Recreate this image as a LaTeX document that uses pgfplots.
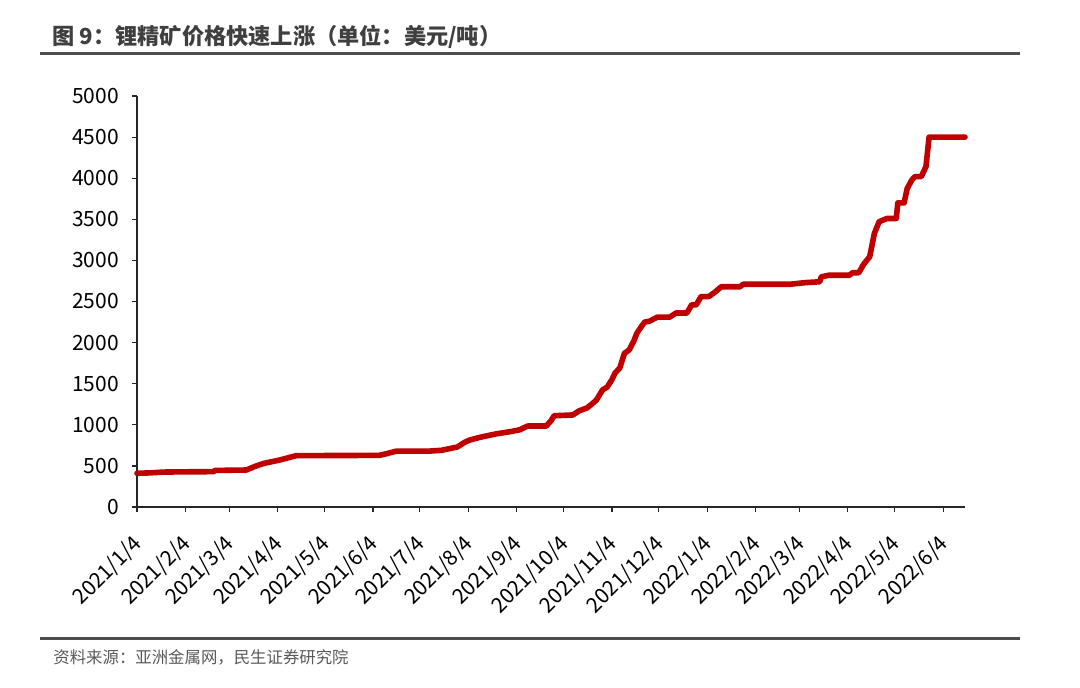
\documentclass[border=0pt]{standalone}
\usepackage{fontspec}
\setmainfont{Noto Sans CJK SC}
\usepackage{pgfplots}
\pgfplotsset{compat=1.18}
\definecolor{linered}{HTML}{C00000}
\definecolor{rulegray}{HTML}{4D4D4D}
\definecolor{titlegray}{HTML}{3F3F3F}
\definecolor{srcgray}{HTML}{595959}
\begin{document}
\begin{tikzpicture}[x=0.5pt,y=0.5pt]
\path (0,0) rectangle (1080,687);
\node[anchor=west, font=\bfseries\fontsize{11.1}{13}\selectfont, text=titlegray, inner sep=0] at (52,650) {图 9：锂精矿价格快速上涨（单位：美元/吨）};
\draw[rulegray, line width=1.5pt] (40,633) -- (1020,633);
\draw[rulegray, line width=1.5pt] (40,49) -- (1020,49);
\node[anchor=west, font=\fontsize{8.2}{10}\selectfont, text=srcgray, inner sep=0] at (53,30) {资料来源：亚洲金属网，民生证券研究院};
\begin{axis}[
  at={(68.5pt,90pt)}, anchor=south west, scale only axis,
  width=414pt, height=205.5pt,
  xmin=0, xmax=530, ymin=0, ymax=5000,
  axis lines*=left,
  axis line style={line width=0.75pt, black!85},
  tick align=outside, major tick length=2.5pt,
  tick style={line width=0.6pt, black!85},
  xtick={0,31,59,90,120,151,181,212,243,273,304,334,365,396,424,455,485,516},
  xticklabels={2021/1/4,2021/2/4,2021/3/4,2021/4/4,2021/5/4,2021/6/4,2021/7/4,2021/8/4,2021/9/4,2021/10/4,2021/11/4,2021/12/4,2022/1/4,2022/2/4,2022/3/4,2022/4/4,2022/5/4,2022/6/4},
  x tick label style={rotate=45, anchor=east, font=\fontsize{10.5}{12}\selectfont, yshift=-10.5pt, xshift=-6pt},
  ytick={0,500,1000,1500,2000,2500,3000,3500,4000,4500,5000},
  y tick label style={font=\fontsize{10.5}{12}\selectfont, xshift=-3pt},
  scaled y ticks=false,
  /pgf/number format/1000 sep={},
  /pgf/number format/assume math mode=true,
  clip=false,
]
\addplot[linered, line width=2.8pt, line join=round, line cap=round] coordinates {
(0,410) (8,415) (17,425) (30,428) (49,430) (50,445) (70,450) (75,490) (81,530)
(86,550) (91,570) (95,590) (100,615) (102,625) (155,628) (160,650) (166,680)
(187,680) (195,690) (205,730) (210,790) (213,815) (220,850) (230,890) (240,920)
(245,940) (250,985) (262,985) (265,1050) (267,1110) (279,1120) (283,1170)
(288,1205) (291,1250) (294,1300) (298,1425) (301,1460) (304,1550) (306,1630)
(309,1690) (312,1870) (315,1910) (318,2020) (320,2115) (323,2200) (325,2250)
(328,2260) (333,2310) (341,2310) (345,2360) (352,2360) (355,2460) (358,2460)
(361,2560) (366,2560) (370,2615) (374,2680) (386,2680) (388,2710) (418,2710)
(428,2730) (437,2740) (438,2800) (443,2820) (456,2820) (458,2850) (462,2850)
(465,2950) (469,3045) (472,3330) (475,3470) (480,3510) (486,3510) (487,3700)
(491,3700) (493,3875) (496,3980) (498,4020) (502,4020) (505,4140) (507,4500)
(530,4500)
};
\end{axis}
\end{tikzpicture}
\end{document}
